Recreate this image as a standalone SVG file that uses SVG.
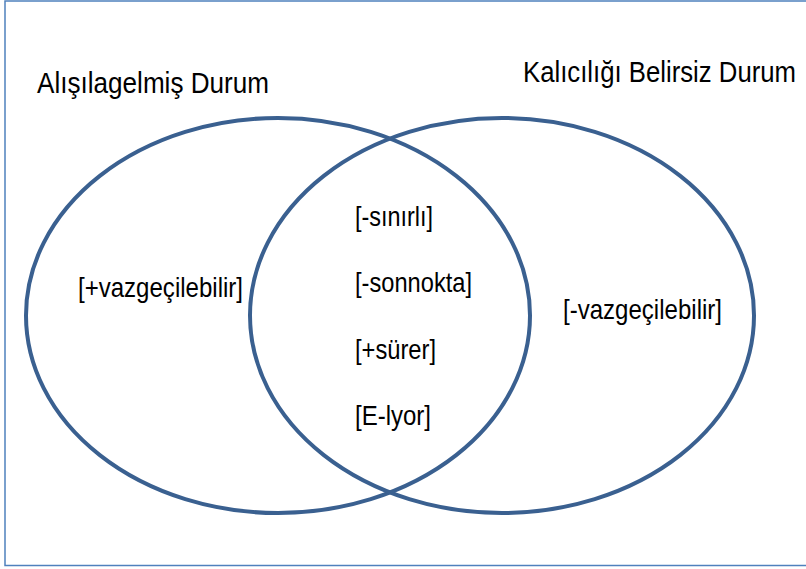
<svg xmlns="http://www.w3.org/2000/svg" width="806" height="569" viewBox="0 0 806 569">
<style>
text{font-family:"Liberation Sans",Arial,sans-serif;fill:#000;}
.t{font-size:29px;}
.l{font-size:28px;}
.c{fill:none;stroke:#3a6090;stroke-width:4;}
</style>
<rect width="806" height="569" fill="#fff"/>
<rect x="5" y="1" width="820" height="564.5" fill="none" stroke="#4f81bd" stroke-width="1.5"/>
<g id="connectors"></g>
<g id="left-set">
<ellipse class="c" cx="278" cy="315.5" rx="252" ry="197.5"/>
<text class="t" x="37" y="93" textLength="232" lengthAdjust="spacingAndGlyphs">Alışılagelmiş Durum</text>
<text class="l" x="78" y="297" textLength="165" lengthAdjust="spacingAndGlyphs">[+vazgeçilebilir]</text>
</g>
<g id="right-set">
<ellipse class="c" cx="502" cy="315.5" rx="252" ry="197.5"/>
<text class="t" x="523" y="82" textLength="273" lengthAdjust="spacingAndGlyphs">Kalıcılığı Belirsiz Durum</text>
<text class="l" x="563" y="319" textLength="159" lengthAdjust="spacingAndGlyphs">[-vazgeçilebilir]</text>
</g>
<g id="intersection">
<text class="l" x="355" y="226" textLength="78" lengthAdjust="spacingAndGlyphs">[-sınırlı]</text>
<text class="l" x="355" y="292" textLength="117" lengthAdjust="spacingAndGlyphs">[-sonnokta]</text>
<text class="l" x="355" y="359" textLength="81" lengthAdjust="spacingAndGlyphs">[+sürer]</text>
<text class="l" x="355" y="425" textLength="76" lengthAdjust="spacingAndGlyphs">[E-lyor]</text>
</g>
</svg>
